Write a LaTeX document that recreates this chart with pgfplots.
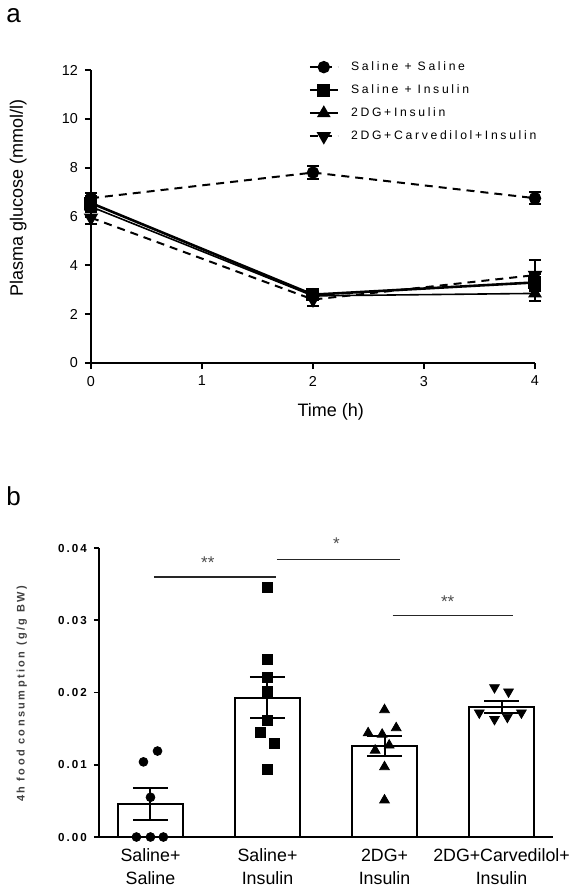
\documentclass[border=0pt]{standalone}
\usepackage{fontspec}
\setmainfont{Liberation Sans}
\newfontfamily\spaced[LetterSpace=22]{Liberation Sans}
\newfontfamily\spacedb[LetterSpace=18]{Liberation Sans}
\usepackage{pgfplots}
\pgfplotsset{compat=1.18}
\begin{document}
\begin{tikzpicture}
\path[use as bounding box] (0,0) rectangle (288.5pt,-444.5pt);
\node[anchor=west, inner sep=0pt] at (3pt,-8pt) {\fontsize{13}{13}\selectfont a};
\node[anchor=west, inner sep=0pt] at (3pt,-248pt) {\fontsize{13}{13}\selectfont b};

\begin{axis}[
  at={(45.5pt,-181.5pt)}, anchor=south west,
  scale only axis, width=222pt, height=146.5pt,
  xmin=0, xmax=4, ymin=0, ymax=12,
  axis x line*=bottom, axis y line*=left,
  axis line style={line width=1pt},
  xtick={0,1,2,3,4}, ytick={0,2,4,6,8,10,12},
  tick align=outside, major tick length=3pt,
  tick style={line width=1pt, black},
  tick label style={font=\fontsize{7.2}{8}\selectfont},
  /pgf/number format/assume math mode=true,
  xlabel={Time (h)}, ylabel={Plasma glucose (mmol/l)},
  xlabel style={at={(axis description cs:0.54,-0.167)}, anchor=center, font=\fontsize{9}{10}\selectfont},
  ylabel style={at={(axis description cs:-0.164,0.563)}, anchor=center, font=\fontsize{9}{10}\selectfont},
  clip=false,
  legend style={draw=none, fill=none, at={(0.489,1.045)}, anchor=north west,
    font=\spaced\fontsize{6.1}{7}\selectfont, row sep=1.6pt, inner sep=0pt,
    nodes={inner xsep=6pt}},
  legend cell align=left,
  legend image code/.code={\draw[mark repeat=2,mark phase=2,#1] plot coordinates {(0pt,0pt)(7pt,0pt)(14pt,0pt)};},
  error bars/y dir=both, error bars/y explicit,
  error bars/error bar style={solid, line width=1pt},
  error bars/error mark options={rotate=90, mark size=3pt, line width=1pt, solid},
]
\addplot[black, line width=1pt, dash pattern=on 4pt off 3pt, mark=*, mark size=2.6pt, mark options={solid}]
  coordinates {(0,6.75) +- (0,0.2) (2,7.8) +- (0,0.25) (4,6.75) +- (0,0.25)};
\addlegendentry{Saline + Saline}
\addplot[black, line width=1.3pt, mark=square*, mark size=3pt, mark options={solid, line width=0.5pt}]
  coordinates {(0,6.55) +- (0,0.3) (2,2.8) +- (0,0.15) (4,3.3) +- (0,0.35)};
\addlegendentry{Saline + Insulin}
\addplot[black, line width=0.8pt, mark=triangle*, mark size=3.2pt, mark options={solid}]
  coordinates {(0,6.4) +- (0,0.2) (2,2.75) +- (0,0.15) (4,2.85) +- (0,0.3)};
\addlegendentry{2DG+Insulin}
\addplot[black, line width=1pt, dash pattern=on 4pt off 3pt, mark=triangle*, mark size=3.2pt, mark options={solid, rotate=180}]
  coordinates {(0,5.95) +- (0,0.25) (2,2.6) +- (0,0.25) (4,3.6) +- (0,0.6)};
\addlegendentry{2DG+Carvedilol+Insulin}
\end{axis}

\begin{axis}[
  at={(49.5pt,-418.5pt)}, anchor=south west,
  scale only axis, width=227pt, height=144.5pt,
  xmin=-0.44, xmax=3.44, ymin=0, ymax=0.04,
  axis x line*=bottom, axis y line*=left,
  x axis line style={line width=1pt},
  y axis line style={line width=0.8pt},
  xtick={0,1,2,3},
  xticklabels={Saline+\\Saline, Saline+\\Insulin, 2DG+\\Insulin, 2DG+Carvedilol+\\Insulin},
  xticklabel style={align=center, font=\fontsize{8.9}{11.3}\selectfont},
  x tick style={draw=none},
  ytick={0,0.01,0.02,0.03,0.04},
  yticklabels={0.00,0.01,0.02,0.03,0.04},
  scaled y ticks=false,
  yticklabel style={font=\spacedb\bfseries\fontsize{5.8}{6}\selectfont},
  tick align=outside, major tick length=2.5pt,
  y tick style={line width=0.8pt, black},
  ylabel={4h food consumption (g/g BW)},
  ylabel style={at={(axis description cs:-0.17,0.495)}, anchor=center,
    font=\spaced\bfseries\fontsize{5.5}{6}\selectfont, color=black!75},
  clip=false,
]
\addplot[ybar, bar width=32.5pt, fill=white, draw=black, line width=1pt]
  coordinates {(0,0.0046) (1,0.0193) (2,0.0126) (3,0.0180)};
\addplot[only marks, mark=*, mark size=2.2pt, black]
  coordinates {(0.06,0.0119) (-0.06,0.0104) (0,0.0055) (-0.12,0) (0,0) (0.11,0)};
\addplot[only marks, mark=square*, mark size=2.5pt, black]
  coordinates {(1,0.0345) (1,0.0246) (1,0.0221) (1,0.0201) (1,0.0162) (0.94,0.0145) (1.06,0.0130) (1,0.0094)};
\addplot[only marks, mark=triangle*, mark size=2.8pt, black]
  coordinates {(2,0.0176) (1.86,0.0144) (2.10,0.0151) (1.98,0.0142) (2.04,0.0127) (1.92,0.0120) (2,0.0097) (2,0.0051)};
\addplot[only marks, mark=triangle*, mark size=2.8pt, black, mark options={rotate=180}]
  coordinates {(2.94,0.0207) (3.06,0.0201) (2.81,0.0172) (2.94,0.0163) (3.05,0.0166) (3.17,0.0172)};
\addplot[draw=none, mark=none, forget plot,
  error bars/.cd, y dir=both, y explicit,
  error bar style={line width=1pt, black},
  error mark options={rotate=90, mark size=8.75pt, line width=1pt, black}]
  coordinates {(0,0.0046) +- (0,0.0022) (1,0.0193) +- (0,0.0028) (2,0.0126) +- (0,0.0014) (3,0.0180) +- (0,0.0008)};
\draw[line width=0.6pt, black!85] (axis cs:0.03,0.0360) -- (axis cs:1.07,0.0360);
\draw[line width=0.6pt, black!85] (axis cs:1.08,0.0384) -- (axis cs:2.13,0.0384);
\draw[line width=0.6pt, black!85] (axis cs:2.07,0.0307) -- (axis cs:3.10,0.0307);
\node[font=\fontsize{8.5}{8.5}\selectfont, text=black!70] at (axis cs:0.49,0.0380) {**};
\node[font=\fontsize{8.5}{8.5}\selectfont, text=black!70] at (axis cs:1.59,0.0406) {*};
\node[font=\fontsize{8.5}{8.5}\selectfont, text=black!70] at (axis cs:2.54,0.0326) {**};
\end{axis}
\end{tikzpicture}
\end{document}
